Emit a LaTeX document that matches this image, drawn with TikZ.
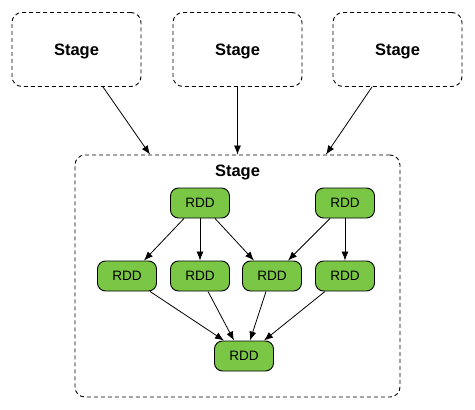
\documentclass[tikz,border=0pt]{standalone}
\usepackage{fontspec}
\setmainfont{Liberation Sans}
\usetikzlibrary{arrows.meta}
\definecolor{rddgreen}{RGB}{122,199,69}
\begin{document}
\begin{tikzpicture}[x=1pt,y=-1pt,
  stagebox/.style={draw,dash pattern=on 4pt off 3pt,line width=0.9pt,rounded corners=10pt,inner sep=0pt},
  stagetext/.style={font=\bfseries\fontsize{16.5}{18}\selectfont,text height=11.8pt,text depth=0pt},
  rddbox/.style={draw,fill=rddgreen,line width=0.9pt,rounded corners=8pt,minimum width=59pt,minimum height=30pt,inner sep=0pt,font=\fontsize{13.6}{15}\selectfont,text height=9.8pt,text depth=0pt},
  conn/.style={line width=0.8pt,-{Latex[length=9pt,width=7pt]}}]
\useasboundingbox (0,0) rectangle (475,410);
\node[stagebox,stagetext,minimum width=129pt,minimum height=74pt] (s1) at (76.5,49.5) {Stage};
\node[stagebox,stagetext,minimum width=129pt,minimum height=74pt] (s2) at (237.5,49.5) {Stage};
\node[stagebox,stagetext,minimum width=129pt,minimum height=74pt] (s3) at (397.5,49.5) {Stage};
\node[stagebox,minimum width=325pt,minimum height=242pt] (big) at (237.5,276) {};
\node[stagetext,inner sep=0pt] (biglabel) at (237.5,171) {Stage};
\node[rddbox] (t1) at (200,203) {RDD};
\node[rddbox] (t2) at (345,203) {RDD};
\node[rddbox] (m1) at (127,276) {RDD};
\node[rddbox] (m2) at (200,276) {RDD};
\node[rddbox] (m3) at (272,276) {RDD};
\node[rddbox] (m4) at (345,276) {RDD};
\node[rddbox] (b) at (244,356) {RDD};
\draw[conn] ([xshift=26.5pt]s1.south) -- ([xshift=-87.5pt]big.north);
\draw[conn] (s2.south) -- (big.north);
\draw[conn] ([xshift=-25.5pt]s3.south) -- ([xshift=88.5pt]big.north);
\draw[conn] ([xshift=-16pt]t1.south) -- ([xshift=17pt]m1.north);
\draw[conn] (t1.south) -- (m2.north);
\draw[conn] ([xshift=15pt]t1.south) -- ([xshift=-18pt]m3.north);
\draw[conn] ([xshift=-15pt]t2.south) -- ([xshift=16pt]m3.north);
\draw[conn] (t2.south) -- (m4.north);
\draw[conn] ([xshift=23pt]m1.south) -- ([xshift=-20pt]b.north);
\draw[conn] ([xshift=8pt]m2.south) -- ([xshift=-10pt]b.north);
\draw[conn] ([xshift=-6pt]m3.south) -- ([xshift=6pt]b.north);
\draw[conn] ([xshift=-20pt]m4.south) -- ([xshift=20pt]b.north);
\end{tikzpicture}
\end{document}
